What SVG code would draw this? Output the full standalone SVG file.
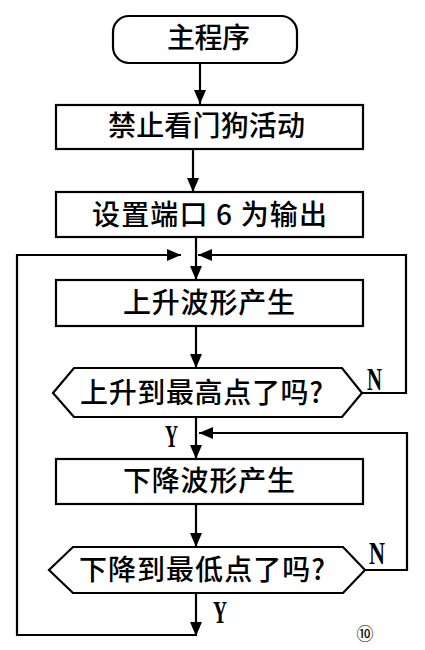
<svg xmlns="http://www.w3.org/2000/svg" width="425" height="650" viewBox="0 0 425 650">
<defs>
<marker id="ah" markerUnits="userSpaceOnUse" markerWidth="14" markerHeight="12" refX="14" refY="6" orient="auto">
<path d="M0,0 L14,6 L0,12 Z" fill="#000"/>
</marker>
<style>
.box{fill:#fff;stroke:#000;stroke-width:2.2}
.cn{font-family:"Noto Sans CJK SC","Noto Sans CJK JP",sans-serif;font-size:28px;font-weight:500;fill:#000}
.yn{font-family:"Liberation Serif",serif;font-size:32px;font-weight:bold;fill:#000}
.ln{fill:none;stroke:#000;stroke-width:2.2}
</style>
</defs>
<rect width="425" height="650" fill="#fff"/>
<g id="connectors">
<path class="ln" d="M200,63 V104" marker-end="url(#ah)"/>
<path class="ln" d="M193,149 V192" marker-end="url(#ah)"/>
<path class="ln" d="M196,237 V280" marker-end="url(#ah)"/>
<path class="ln" d="M196,635 H17 V255 H181" marker-end="url(#ah)"/>
<path class="ln" d="M362,393 H406 V255 H198" marker-end="url(#ah)"/>
<path class="ln" d="M196,326 V368" marker-end="url(#ah)"/>
<path class="ln" d="M196,417 V459" marker-end="url(#ah)"/>
<path class="ln" d="M365,570 H407 V433 H199" marker-end="url(#ah)"/>
<path class="ln" d="M196,504 V547" marker-end="url(#ah)"/>
<path class="ln" d="M196,593 V636" marker-end="url(#ah)"/>
</g>
<g id="start">
<rect class="box" x="113" y="16" width="184" height="47" rx="16" ry="16"/>
<text class="cn" x="167" y="48" textLength="83" lengthAdjust="spacing">主程序</text>
</g>
<g id="disable-wdt">
<rect class="box" x="56" y="105" width="307" height="44"/>
<text class="cn" x="108" y="136" textLength="197" lengthAdjust="spacing">禁止看门狗活动</text>
</g>
<g id="port-output">
<rect class="box" x="56" y="192" width="307" height="45"/>
<text class="cn" x="92" y="225" textLength="235" lengthAdjust="spacing">设置端口 6 为输出</text>
</g>
<g id="rise">
<rect class="box" x="56" y="280" width="307" height="46"/>
<text class="cn" x="123" y="313" textLength="172" lengthAdjust="spacing">上升波形产生</text>
</g>
<g id="rise-check">
<path class="box" d="M74,368 H342 L362,393 L342,417 H74 L53,393 Z"/>
<text class="cn" x="80" y="403" textLength="243" lengthAdjust="spacing">上升到最高点了吗?</text>
<text class="yn" x="367" y="390" textLength="15" lengthAdjust="spacingAndGlyphs">N</text>
<text class="yn" x="165" y="447" textLength="13" lengthAdjust="spacingAndGlyphs">Y</text>
</g>
<g id="fall">
<rect class="box" x="56" y="459" width="307" height="45"/>
<text class="cn" x="123" y="491" textLength="172" lengthAdjust="spacing">下降波形产生</text>
</g>
<g id="fall-check">
<path class="box" d="M73,547 H343 L365,570 L343,593 H73 L49,570 Z"/>
<text class="cn" x="79" y="580" textLength="246" lengthAdjust="spacing">下降到最低点了吗?</text>
<text class="yn" x="369" y="564" textLength="16" lengthAdjust="spacingAndGlyphs">N</text>
<text class="yn" x="213" y="623" textLength="14" lengthAdjust="spacingAndGlyphs">Y</text>
</g>
<text x="365" y="640" text-anchor="middle" font-family="Noto Sans CJK SC, sans-serif" font-size="17">⑩</text>
</svg>
